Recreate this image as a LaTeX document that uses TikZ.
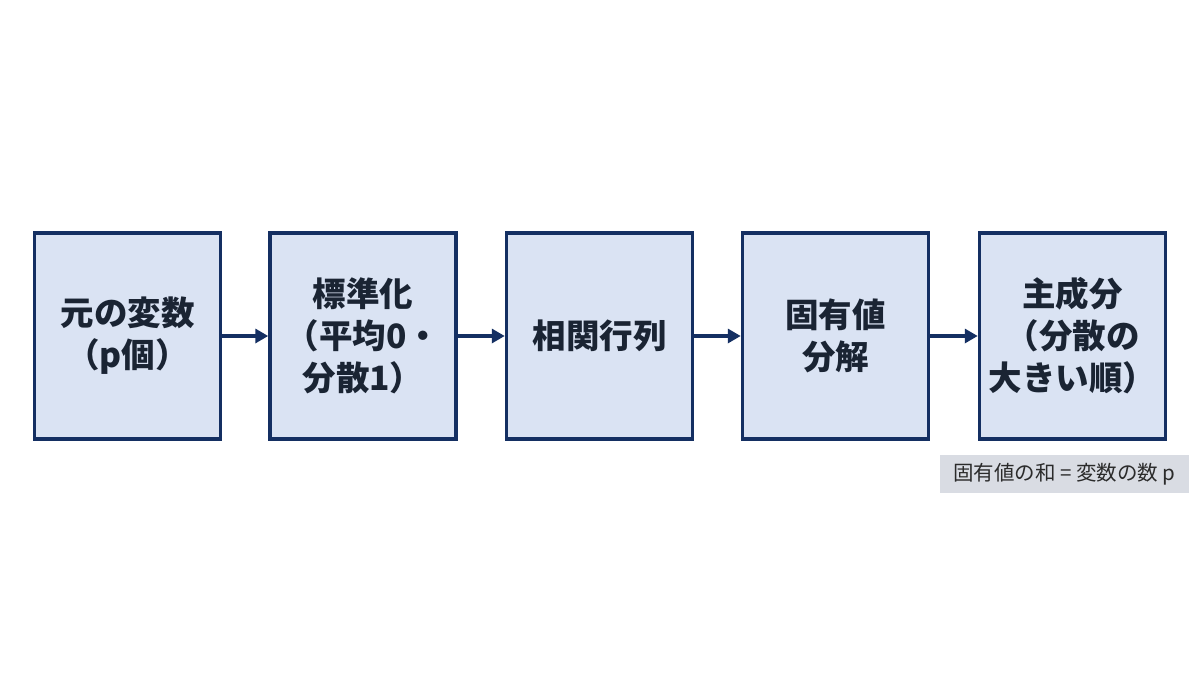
\documentclass[tikz,border=0pt]{standalone}
\usepackage{fontspec}
\setmainfont{Noto Sans CJK JP}
\usetikzlibrary{arrows.meta}
\definecolor{boxfill}{HTML}{DAE3F3}
\definecolor{navy}{HTML}{142F62}
\definecolor{txt}{HTML}{1A2433}
\definecolor{notefill}{HTML}{D9DCE3}
\definecolor{notetxt}{HTML}{2B2B2B}
\begin{document}
\begin{tikzpicture}[x=1pt,y=-1pt,
  stagebox/.style={draw=navy,fill=boxfill,line width=3.5pt,minimum width=186pt,minimum height=206pt,
    inner sep=0pt,align=center,text=txt,font=\fontsize{33.5}{42}\selectfont\bfseries},
  flowarrow/.style={draw=navy,line width=3.5pt,-{Triangle[length=13pt,width=14pt]}},
  notebox/.style={fill=notefill,minimum width=249pt,minimum height=38pt,inner sep=0pt,
    text=notetxt,font=\fontsize{20.5}{22}\selectfont}]
\useasboundingbox (0,0) rectangle (1200,675);
\fill[white] (0,0) rectangle (1200,675);
\node[stagebox] (b1) at (127.5,336) {元の変数\\（p個）};
\node[stagebox] (b2) at (363,336) {標準化\\（平均0・\\分散1）};
\node[stagebox] (b3) at (599.5,336) {相関行列};
\node[stagebox] (b4) at (835.5,336) {固有値\\分解};
\node[stagebox] (b5) at (1072.5,336) {主成分\\（分散の\\大きい順）};
\node[notebox] (n) at (1064.5,474) {固有値の和 = 変数の数 p};
\draw[flowarrow] (b1.east) -- (b2.west);
\draw[flowarrow] (b2.east) -- (b3.west);
\draw[flowarrow] (b3.east) -- (b4.west);
\draw[flowarrow] (b4.east) -- (b5.west);
\end{tikzpicture}
\end{document}
